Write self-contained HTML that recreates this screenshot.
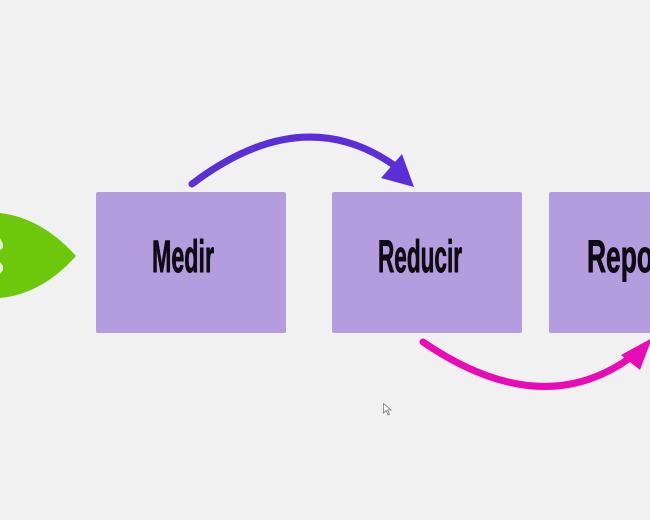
<!DOCTYPE html>
<html><head><meta charset="utf-8"><style>
html,body{margin:0;padding:0;background:#f1f1f1;}
svg{display:block;}
text{font-family:"Liberation Sans Narrow","Liberation Sans",sans-serif;font-weight:bold;fill:#0e0b12;stroke:#0e0b12;stroke-width:0.9;}
</style></head><body>
<svg width="650" height="520" viewBox="0 0 650 520" xmlns="http://www.w3.org/2000/svg">
<rect width="650" height="520" fill="#f1f1f1"/>
<!-- green leaf -->
<path d="M0,213 Q42,218 76,256 Q42,294 0,298 Z" fill="#6dc70b"/>
<path d="M0,238 L3,244 L3,248 L0,250 Z M0,262 L3,266 L3,270 L0,274 Z" fill="#e8f5d8"/>
<!-- boxes -->
<rect x="96" y="192" width="190" height="141" rx="2" fill="#b39ddf"/>
<rect x="332" y="192" width="190" height="141" rx="2" fill="#b39ddf"/>
<rect x="549" y="192" width="110" height="141" rx="2" fill="#b39ddf"/>
<!-- labels -->
<text x="152" y="272" font-size="45" textLength="62" lengthAdjust="spacingAndGlyphs">Medir</text>
<text x="378" y="272" font-size="45" textLength="84" lengthAdjust="spacingAndGlyphs">Reducir</text>
<text x="587" y="272" font-size="45" textLength="110" lengthAdjust="spacingAndGlyphs">Reportar</text>
<!-- purple arrow -->
<path d="M192,184 Q304,99 398,168" fill="none" stroke="#5a2fd8" stroke-width="7" stroke-linecap="round"/>
<polygon points="381,178 402,154 414,187" fill="#5a2fd8"/>
<!-- pink arrow -->
<path d="M423,342 Q540,422 630,358" fill="none" stroke="#e90bb5" stroke-width="7" stroke-linecap="round"/>
<polygon points="621,355 652,338 640,370" fill="#e90bb5"/>
<!-- cursor -->
<path d="M383.5,403.5 L383.5,413 L386,410.5 L388,415 L389.5,414.3 L387.6,410 L391,410 Z" fill="#fafafa" stroke="#777" stroke-width="0.8"/>
</svg>
</body></html>
